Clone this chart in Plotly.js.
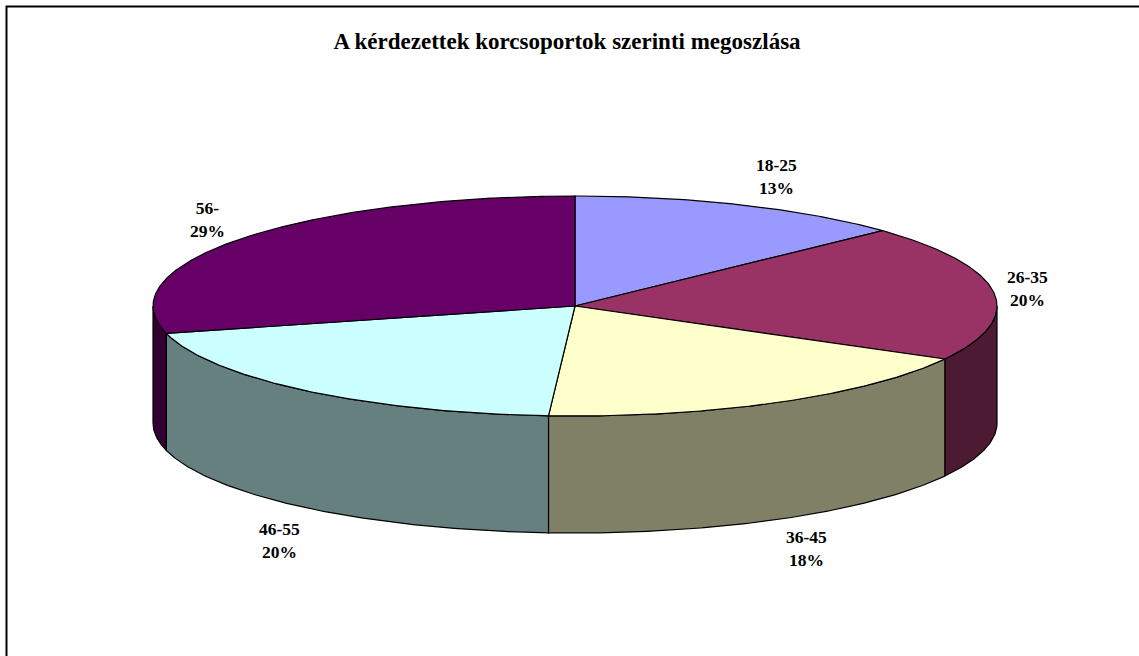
<!DOCTYPE html>
<html>
<head>
<meta charset="utf-8">
<script src="https://cdn.plot.ly/plotly-3.0.1.min.js"></script>
<style>html,body{margin:0;padding:0;background:#fff;}#chart{width:1139px;height:656px;}</style>
</head>
<body>
<div id="chart"></div>
<script>
// Data
var categories = ["18-25", "26-35", "36-45", "46-55", "56-"];
var values = [13, 20, 18, 20, 29];
var percentLabels = ["13%", "20%", "18%", "20%", "29%"];
var topColors = ["#9999FF", "#993366", "#FFFFCC", "#CCFFFF", "#660066"];
var sideColors = ["#4D4D80", "#4D1A33", "#808066", "#668080", "#330033"];

// Geometry (pixel space)
var W = 1139, H = 656;
var cx = 575, cy = 306, rx = 422, ry = 110, depth = 117;
var labelPos = [[776, 176], [1027, 288], [806, 548], [279, 540], [207, 219]];

var total = values.reduce(function(a, b){ return a + b; }, 0);
function pt(thetaDeg, dy) {
  var t = thetaDeg * Math.PI / 180;
  return [cx + rx * Math.sin(t), cy - ry * Math.cos(t) + (dy || 0)];
}
function arc(a1, a2, dy) {
  var pts = [];
  var n = Math.max(2, Math.ceil(Math.abs(a2 - a1) / 0.5));
  for (var i = 0; i <= n; i++) pts.push(pt(a1 + (a2 - a1) * i / n, dy));
  return pts;
}

var traces = [];
var angles = [];
var acc = 0;
for (var i = 0; i < values.length; i++) {
  var a1 = acc / total * 360;
  acc += values[i];
  var a2 = acc / total * 360;
  angles.push([a1, a2]);
}

// Side faces (front half: 90..270 degrees clockwise from top)
for (var i = 0; i < values.length; i++) {
  var s = Math.max(angles[i][0], 90), e = Math.min(angles[i][1], 270);
  if (e <= s) continue;
  var upperArc = arc(s, e, 0);
  var lowerArc = arc(e, s, depth);
  var poly = upperArc.concat(lowerArc); poly.push(upperArc[0]);
  traces.push({
    type: "scatter", mode: "lines", fill: "toself",
    x: poly.map(function(p){ return p[0]; }),
    y: poly.map(function(p){ return p[1]; }),
    fillcolor: sideColors[i],
    line: {color: "#000000", width: 1.2},
    hoverinfo: "skip", showlegend: false
  });
}

// Top faces
for (var i = 0; i < values.length; i++) {
  var poly = [[cx, cy]].concat(arc(angles[i][0], angles[i][1], 0));
  poly.push([cx, cy]);
  traces.push({
    type: "scatter", mode: "lines", fill: "toself",
    x: poly.map(function(p){ return p[0]; }),
    y: poly.map(function(p){ return p[1]; }),
    fillcolor: topColors[i],
    line: {color: "#000000", width: 1.2},
    hoverinfo: "skip", showlegend: false
  });
}

var annotations = categories.map(function(c, i) {
  return {
    x: labelPos[i][0], y: labelPos[i][1], xref: "x", yref: "y",
    text: "<b>" + c + "<br>" + percentLabels[i] + "</b>",
    showarrow: false, align: "center",
    font: {family: "Liberation Serif, Times New Roman, serif", size: 17.5, color: "#000"}
  };
});

var layout = {
  width: W, height: H,
  margin: {l: 0, r: 0, t: 0, b: 0},
  paper_bgcolor: "#ffffff", plot_bgcolor: "#ffffff",
  title: {
    text: "<b>A kérdezettek korcsoportok szerinti megoszlása</b>",
    x: 567 / W, xanchor: "center", y: 1 - 41 / H, yanchor: "middle",
    font: {family: "Liberation Serif, Times New Roman, serif", size: 23, color: "#000"}
  },
  xaxis: {range: [0, W], visible: false, fixedrange: true},
  yaxis: {range: [H, 0], visible: false, fixedrange: true},
  showlegend: false,
  annotations: annotations,
  shapes: [{
    type: "path", xref: "x", yref: "y",
    path: "M 6.5 " + (H + 2) + " L 6.5 6.5 L " + (W + 2) + " 6.5",
    line: {color: "#000", width: 2}
  }]
};

Plotly.newPlot("chart", traces, layout, {displayModeBar: false, staticPlot: true});
</script>
</body>
</html>
